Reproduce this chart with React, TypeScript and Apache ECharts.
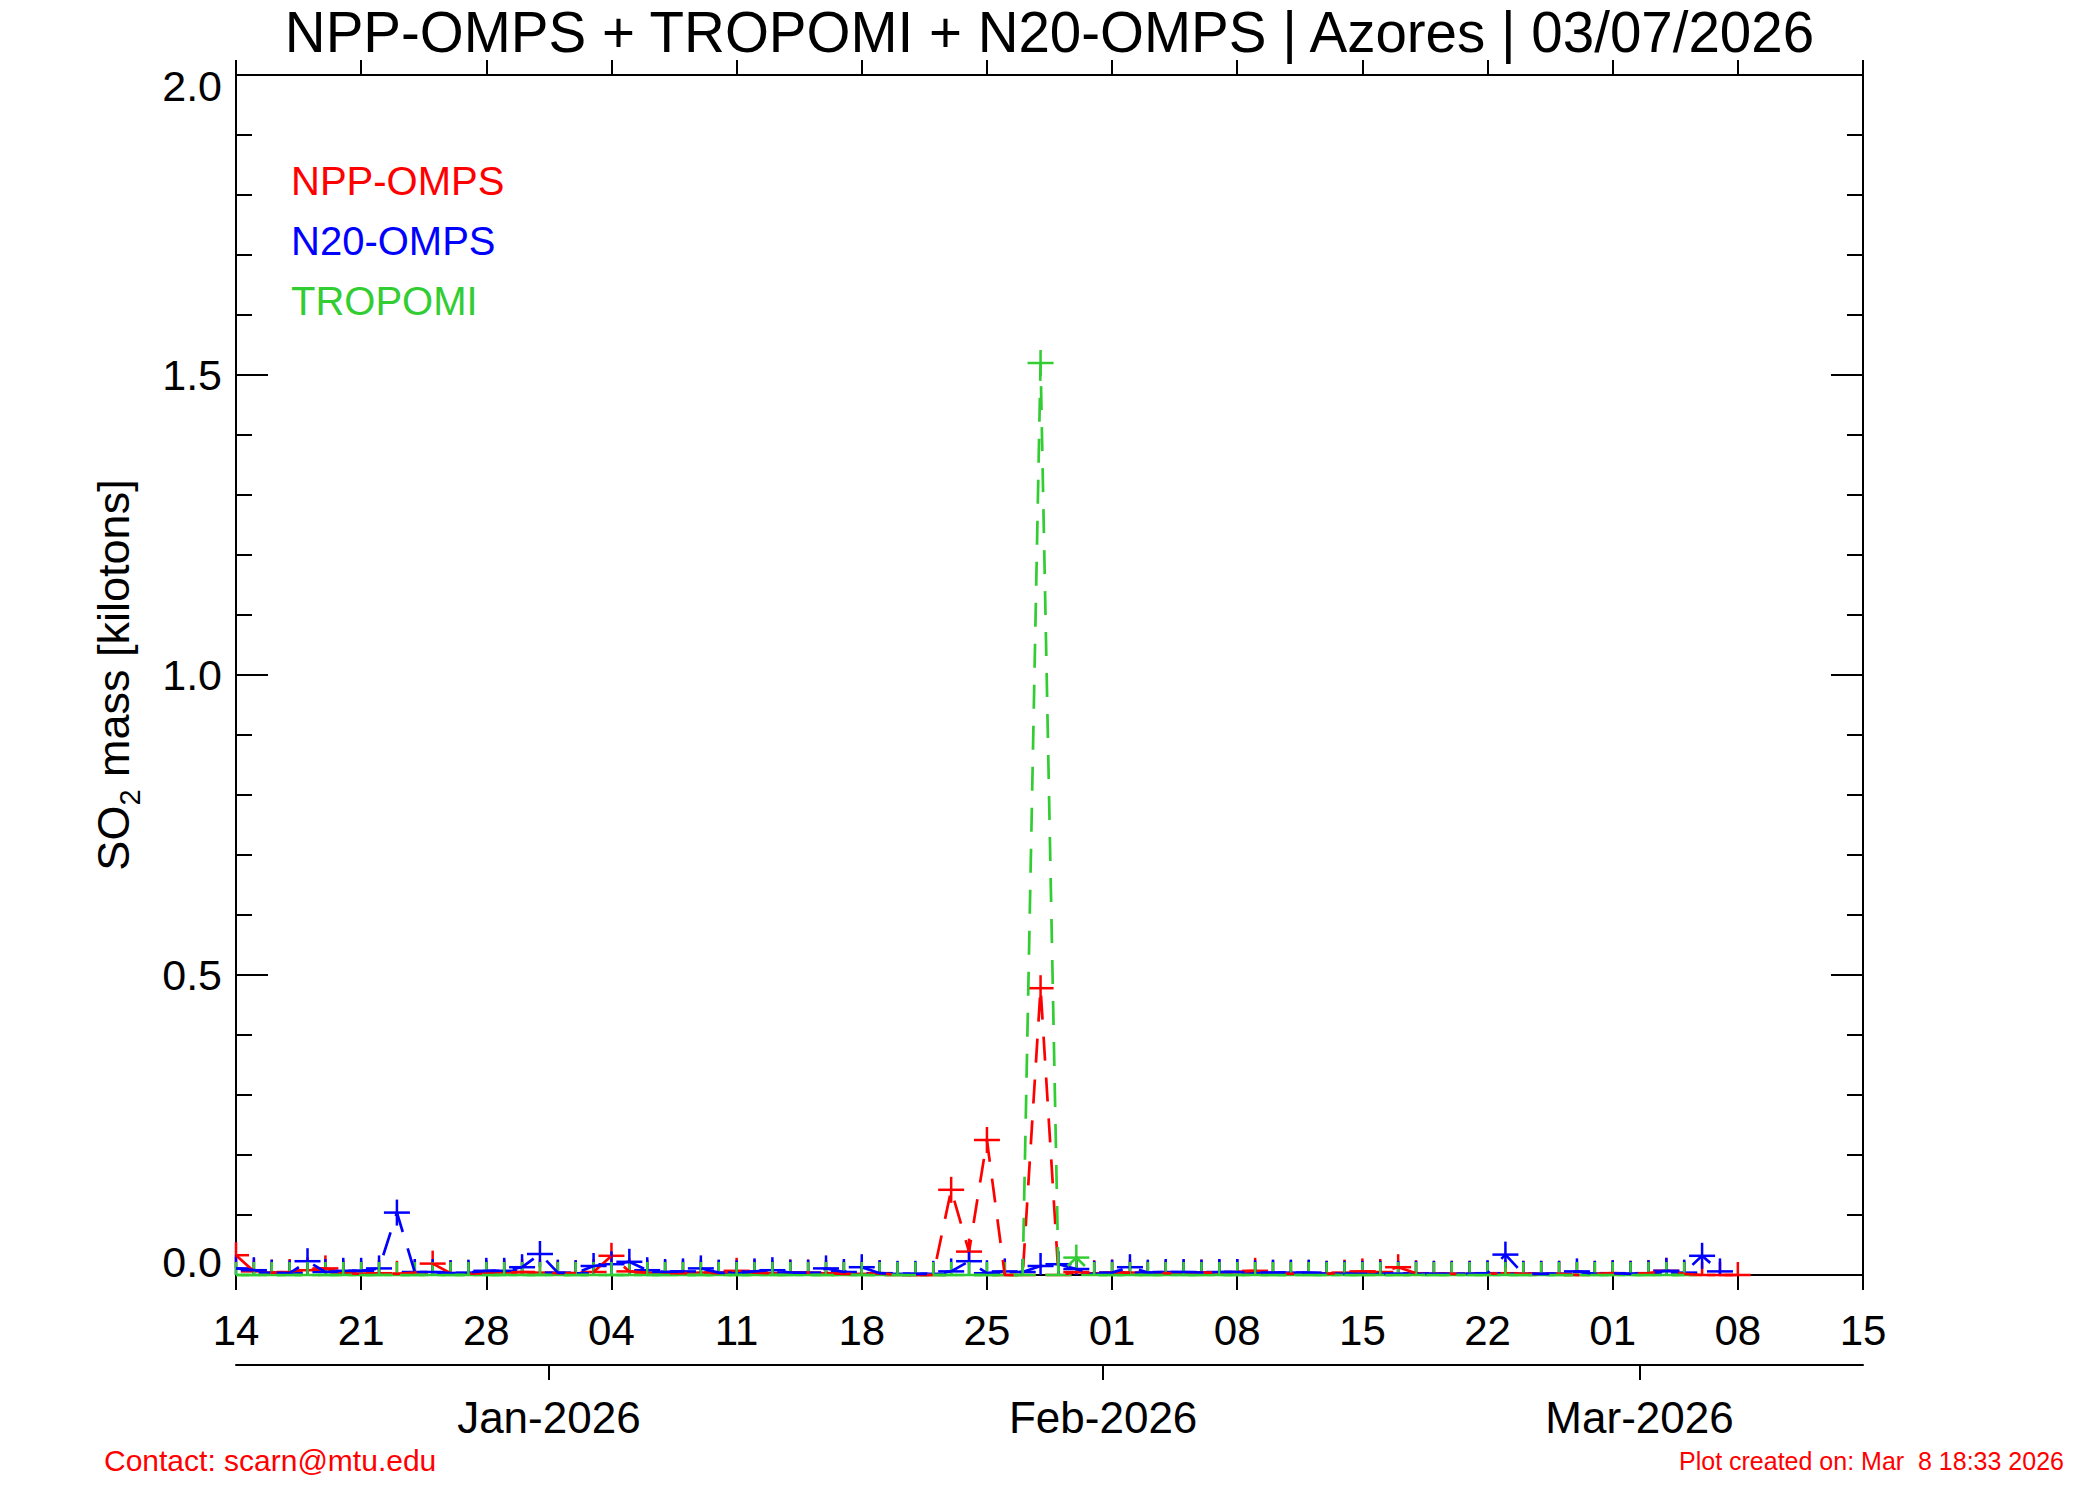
import React, { useEffect, useRef } from 'react';
import * as echarts from 'echarts';

const TITLE = 'NPP-OMPS + TROPOMI + N20-OMPS | Azores | 03/07/2026';
const CONTACT = 'Contact: scarn@mtu.edu';
const CREATED = 'Plot created on: Mar  8 18:33 2026';

const axisStart = '2025-12-14';
const axisEnd = '2026-03-15';
const weekTickLabels = ['14', '21', '28', '04', '11', '18', '25', '01', '08', '15', '22', '01', '08', '15'];
const monthLabels = ['Jan-2026', 'Feb-2026', 'Mar-2026'];
const monthTickDays = [17.5, 48.5, 78.5];

const seriesNames = ['NPP-OMPS', 'N20-OMPS', 'TROPOMI'];
const seriesColors = ['#FF0000', '#0000FF', '#32CD32'];

// daily values starting at the given date (kilotons)
const nppStart = '2025-12-14';
const nppValues = [
  0.033, 0.006, 0.004, 0.005, 0.008, 0.011, 0.003, 0.002, 0.003, 0.002,
  0.004, 0.019, 0.003, 0.002, 0.003, 0.004, 0.005, 0.004, 0.003, 0.003,
  0.005, 0.032, 0.006, 0.004, 0.003, 0.003, 0.004, 0.003, 0.007, 0.004,
  0.003, 0.004, 0.004, 0.003, 0.002, 0.002, 0.003, 0.0, 0.0, 0.0,
  0.142, 0.039, 0.225, 0.0, 0.0, 0.478, 0.0, 0.005, 0.003, 0.004,
  0.004, 0.002, 0.003, 0.003, 0.004, 0.004, 0.005, 0.007, 0.003, 0.002,
  0.003, 0.002, 0.004, 0.006, 0.005, 0.013, 0.003, 0.002, 0.002, 0.002,
  0.002, 0.003, 0.002, 0.002, 0.002, 0.0, 0.002, 0.003, 0.002, 0.003,
  0.007, 0.002, 0.0, 0.0, 0.0,
];

const n20Start = '2025-12-14';
const n20Values = [
  0.011, 0.008, 0.004, 0.003, 0.023, 0.005, 0.007, 0.007, 0.011, 0.104,
  0.005, 0.005, 0.003, 0.004, 0.007, 0.007, 0.013, 0.035, 0.004, 0.003,
  0.015, 0.018, 0.022, 0.008, 0.005, 0.006, 0.011, 0.004, 0.003, 0.006,
  0.008, 0.004, 0.004, 0.011, 0.005, 0.013, 0.003, 0.002, 0.002, 0.002,
  0.006, 0.023, 0.003, 0.006, 0.005, 0.015, 0.018, 0.010, 0.002, 0.004,
  0.013, 0.004, 0.005, 0.005, 0.004, 0.005, 0.005, 0.003, 0.004, 0.004,
  0.004, 0.002, 0.002, 0.002, 0.002, 0.002, 0.002, 0.002, 0.002, 0.002,
  0.003, 0.034, 0.002, 0.002, 0.002, 0.006, 0.002, 0.003, 0.002, 0.003,
  0.007, 0.004, 0.032, 0.006,
];

const tropomiStart = '2025-12-14';
const tropomiValues = [
  0, 0, 0, 0, 0, 0, 0, 0, 0, 0,
  0, 0, 0, 0, 0, 0, 0, 0, 0, 0,
  0, 0, 0, 0, 0, 0, 0, 0, 0, 0,
  0, 0, 0, 0, 0, 0, 0, 0, 0, 0,
  0, 0, 0, 0, 0, 1.52, 0, 0.029, 0, 0,
  0, 0, 0, 0, 0, 0, 0, 0, 0, 0,
  0, 0, 0, 0, 0, 0, 0, 0, 0, 0,
  0, 0, 0, 0, 0, 0, 0, 0, 0, 0,
  0, 0,
];

const FONT = '"Liberation Sans", Arial, Helvetica, sans-serif';

function toUTC(s: string): number {
  const [y, m, d] = s.split('-').map(Number);
  return Date.UTC(y, m - 1, d);
}
function dayOffset(s: string): number {
  return Math.round((toUTC(s) - toUTC(axisStart)) / 86400000);
}
function buildData(start: string, values: number[]): number[][] {
  const o = dayOffset(start);
  return values.map((v, i) => [o + i, v]);
}

function lineSeries(name: string, color: string, data: number[][]) {
  return {
    type: 'line',
    name,
    xAxisIndex: 0,
    yAxisIndex: 0,
    data,
    symbol: 'none',
    clip: false,
    lineStyle: { color, width: 2.7, type: [24, 17] },
    emphasis: { disabled: true },
    silent: true,
  };
}

function markerSeries(name: string, color: string, data: number[][]) {
  return {
    type: 'custom',
    name: name + ' markers',
    xAxisIndex: 0,
    yAxisIndex: 0,
    data,
    clip: false,
    silent: true,
    encode: { x: 0, y: 1 },
    renderItem: (params: any, api: any) => {
      const p = api.coord([api.value(0), api.value(1)]);
      const base = api.coord([0, 0]);
      const h = 13;
      return {
        type: 'group',
        children: [
          {
            type: 'line',
            shape: { x1: p[0], y1: p[1] - h, x2: p[0], y2: Math.min(p[1] + h, base[1]) },
            style: { stroke: color, lineWidth: 2.5 },
          },
          {
            type: 'line',
            shape: { x1: Math.max(p[0] - h, base[0]), y1: p[1], x2: p[0] + h, y2: p[1] },
            style: { stroke: color, lineWidth: 2.5 },
          },
        ],
      };
    },
  };
}

export default function App() {
  const ref = useRef<HTMLDivElement>(null);

  useEffect(() => {
    document.body.style.margin = '0';
    if (!ref.current) return;
    const chart = echarts.init(ref.current, undefined, { renderer: 'svg' });

    const xMax = dayOffset(axisEnd);
    const black = { color: '#000', width: 2 };

    const datasets = [
      buildData(nppStart, nppValues),
      buildData(n20Start, n20Values),
      buildData(tropomiStart, tropomiValues),
    ];

    const series: any[] = [];
    datasets.forEach((d, i) => {
      series.push(lineSeries(seriesNames[i], seriesColors[i], d));
      series.push(markerSeries(seriesNames[i], seriesColors[i], d));
    });

    const yLabelFmt = (v: number) => {
      if (v === 0) return '{lo|' + v.toFixed(1) + '}';
      if (v === 2) return '{hi|' + v.toFixed(1) + '}';
      return v.toFixed(1);
    };

    const legendTexts = seriesNames.map((n, i) => ({
      type: 'text',
      left: 291,
      top: 181 + i * 60 - 20,
      style: { text: n, fill: seriesColors[i], font: `40px ${FONT}`, textVerticalAlign: 'top' },
      silent: true,
    }));

    const option: any = {
      animation: false,
      backgroundColor: '#fff',
      textStyle: { fontFamily: FONT },
      grid: { left: 236, top: 75, width: 1627, height: 1200, containLabel: false, outerBoundsMode: 'none' },
      xAxis: [
        {
          type: 'value', min: 0, max: xMax, interval: 7, position: 'bottom',
          axisLine: { show: true, onZero: false, lineStyle: black },
          axisTick: { show: true, inside: false, length: 15, lineStyle: black },
          axisLabel: {
            show: true, color: '#000', fontSize: 42, fontFamily: FONT, margin: 34,
            formatter: (v: number) => weekTickLabels[Math.round(v / 7)] ?? '',
            showMinLabel: true, showMaxLabel: true, hideOverlap: false,
          },
          splitLine: { show: false },
        },
        {
          type: 'value', min: 0, max: xMax, interval: 7, position: 'top',
          axisLine: { show: true, onZero: false, lineStyle: black },
          axisTick: { show: true, inside: false, length: 15, lineStyle: black },
          axisLabel: { show: false },
          splitLine: { show: false },
        },
        {
          type: 'value', min: 0, max: xMax, position: 'bottom', offset: 90,
          axisLine: { show: true, onZero: false, lineStyle: black },
          axisTick: { show: true, inside: false, length: 15, lineStyle: black, customValues: monthTickDays },
          axisLabel: {
            show: true, color: '#000', fontSize: 44, fontFamily: FONT, margin: 30,
            customValues: monthTickDays,
            formatter: (v: number) => {
              const i = monthTickDays.findIndex((m) => Math.abs(m - v) < 1e-6);
              return i >= 0 ? monthLabels[i] : '';
            },
          },
          splitLine: { show: false },
        },
      ],
      yAxis: [
        {
          type: 'value', min: 0, max: 2, interval: 0.5, position: 'left',
          axisLine: { show: true, onZero: false, lineStyle: black },
          axisTick: { show: true, inside: true, length: 32, lineStyle: black },
          minorTick: { show: true, splitNumber: 5, length: 16, lineStyle: black },
          splitLine: { show: false },
          axisLabel: {
            show: true, color: '#000', fontSize: 43, fontFamily: FONT, margin: 14,
            formatter: yLabelFmt,
            showMinLabel: true, showMaxLabel: true,
            rich: {
              lo: { fontSize: 43, fontFamily: FONT, color: '#000', padding: [0, 0, 26, 0] },
              hi: { fontSize: 43, fontFamily: FONT, color: '#000', padding: [22, 0, 0, 0] },
            },
          },
          name: '{a|SO}{b|2}{a| mass [kilotons]}',
          nameLocation: 'middle',
          nameRotate: 90,
          nameGap: 92,
          nameTextStyle: {
            color: '#000', fontSize: 45, fontFamily: FONT,
            rich: {
              a: { fontSize: 45, fontFamily: FONT, color: '#000', lineHeight: 62, verticalAlign: 'middle' },
              b: { fontSize: 29, fontFamily: FONT, color: '#000', lineHeight: 62, verticalAlign: 'bottom' },
            },
          },
        },
        {
          type: 'value', min: 0, max: 2, interval: 0.5, position: 'right',
          axisLine: { show: true, onZero: false, lineStyle: black },
          axisTick: { show: true, inside: true, length: 32, lineStyle: black },
          minorTick: { show: true, splitNumber: 5, length: 16, lineStyle: black },
          splitLine: { show: false },
          axisLabel: { show: false },
        },
      ],
      graphic: [
        {
          type: 'text', x: 1049.5, y: 32, silent: true,
          style: { text: TITLE, fill: '#000', font: `56.5px ${FONT}`, align: 'center', verticalAlign: 'middle' },
        },
        ...legendTexts,
        {
          type: 'text', x: 104, y: 1460, silent: true,
          style: { text: CONTACT, fill: '#FF0000', font: `30px ${FONT}`, align: 'left', verticalAlign: 'middle' },
        },
        {
          type: 'text', x: 2064, y: 1461, silent: true,
          style: { text: CREATED, fill: '#FF0000', font: `25px ${FONT}`, align: 'right', verticalAlign: 'middle' },
        },
      ],
      series,
    };

    chart.setOption(option);
    return () => chart.dispose();
  }, []);

  return <div ref={ref} style={{ width: 2100, height: 1500 }} />;
}
